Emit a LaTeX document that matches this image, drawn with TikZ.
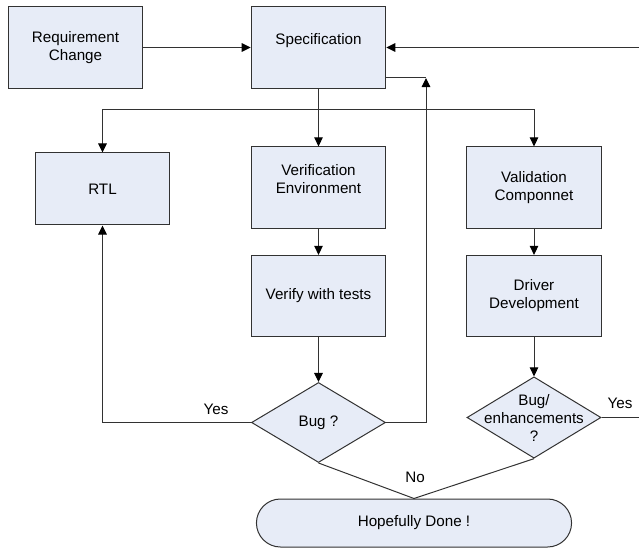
\documentclass[tikz,border=0pt]{standalone}
\usepackage{fontspec}
\setmainfont{Liberation Sans}
\usetikzlibrary{shapes.geometric,shapes.misc,arrows.meta}
\definecolor{boxfill}{RGB}{231,236,247}
\definecolor{linegray}{RGB}{50,50,50}
\begin{document}
\begin{tikzpicture}[x=0.75pt,y=-0.75pt,line width=0.75pt,
    every node/.style={font=\fontsize{11.4}{13.5}\selectfont},
    box/.style={draw=linegray,fill=boxfill,align=center,minimum width=101pt,minimum height=61pt},
    decision/.style={diamond,draw=linegray,fill=boxfill,inner sep=0pt,minimum width=100.5pt,minimum height=60pt},
    term/.style={rounded rectangle,draw=linegray,fill=boxfill,minimum width=243pt,minimum height=36pt},
    arr/.style={draw=linegray,-{Triangle[length=6.8pt,width=6.5pt,color=black]}}]
    \useasboundingbox (0,0) rectangle (639,552);
    \node[box] (req) at (75.5,47.5) {Requirement\\Change};
    \node[box] (spec) at (318.5,47.5) {Specification\\~};
    \node[box,minimum height=54pt] (rtl) at (102.5,189) {RTL};
    \node[box] (verenv) at (318.5,187.5) {Verification\\Environment\\~};
    \node[box] (vtests) at (318.5,296) {Verify with tests};
    \node[box] (valcomp) at (534,187.5) {Validation\\Componnet};
    \node[box] (driver) at (534,296) {Driver\\Development};
    \node[decision] (bug) at (318.5,422.5) {Bug ?};
    \node[decision,minimum height=61pt,label={[align=center]center:Bug/\\enhancements\\?}] (dev) at (534,417.5) {};
    \node[term] (done) at (414,523) {Hopefully Done !};
    \coordinate (specin) at (639,47.5);
    \coordinate (split) at (318.5,110);
    \coordinate (back) at (426,78);
    \coordinate (devout) at (639,417.5);
    \draw[arr] (req) -- (spec);
    \draw[arr] (specin) -- (spec);
    \draw[arr] (spec) -- (verenv);
    \draw[arr] (split) -| (rtl);
    \draw[arr] (split) -| (valcomp);
    \draw[arr] (verenv) -- (vtests);
    \draw[arr] (vtests) -- (bug);
    \draw[arr] (valcomp) -- (driver);
    \draw[arr] (driver) -- (dev);
    \draw[arr] (bug) -| (rtl);
    \draw[arr] (bug) -| (back);
    \draw[linegray] (spec.east |- back) -- (back);
    \draw[linegray] (dev) -- (devout);
    \draw[linegray] (bug.south) -- (done.north) -- (dev.south);
    \node (yes1) at (216,409) {Yes};
    \node (yes2) at (620,403) {Yes};
    \node (no) at (415,477) {No};
\end{tikzpicture}
\end{document}
